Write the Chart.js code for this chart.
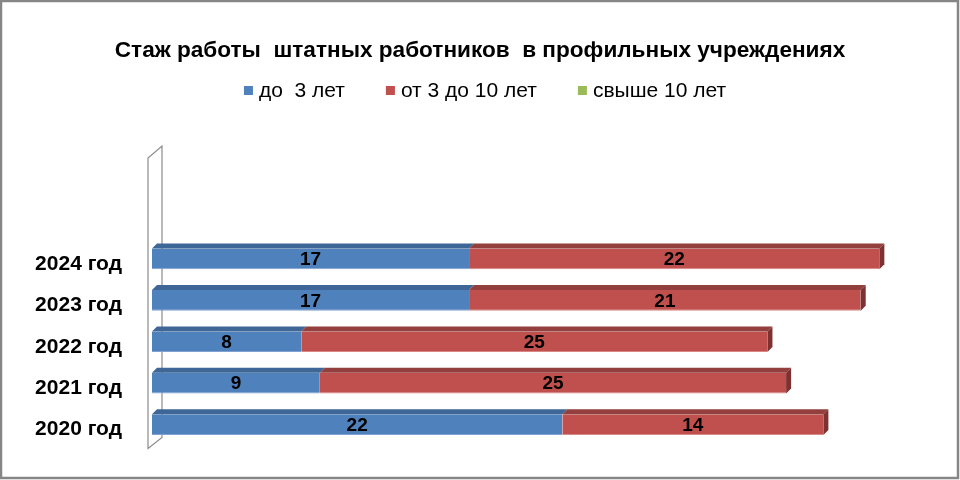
<!DOCTYPE html>
<html lang="ru">
<head>
    <meta charset="UTF-8">
    <title>Стаж работы</title>
    <script src="https://cdn.jsdelivr.net/npm/chart.js"></script>
    <style>
        html, body { margin: 0; padding: 0; background: #fff; }
        #wrap { width: 960px; height: 480px; position: relative; }
    </style>
</head>
<body>
    <div id="wrap"><canvas id="chart"></canvas></div>

    <script>
        // Chart data
        const years = ['2020 год', '2021 год', '2022 год', '2023 год', '2024 год'];
        const seriesNames = ['до  3 лет', 'от 3 до 10 лет', 'свыше 10 лет'];
        const upTo3 = [22, 9, 8, 17, 17];
        const from3to10 = [14, 25, 25, 21, 22];
        const over10 = [0, 0, 0, 0, 0];

        const FONT = "'Liberation Sans', Arial, sans-serif";
        const front = ['#4F81BD', '#C0504D', '#9BBB59'];
        const topFace = ['#3E6696', '#923F3D', '#7A9446'];
        const sideFace = ['#335581', '#7D3231', '#667C3A'];
        const edge = ['#7FA2D2', '#D98885', '#B8D28A'];
        const DX = 5, DY = 5;

        // frame, back wall, 3d faces, values and legend
        const decor = {
            id: 'decor',
            beforeDatasetsDraw(chart) {
                const ctx = chart.ctx;
                const area = chart.chartArea;
                ctx.save();
                ctx.strokeStyle = '#8C8C8C';
                ctx.lineWidth = 1.2;
                ctx.fillStyle = '#fff';
                const l = area.left - 4, b = area.bottom + 3;
                ctx.beginPath();
                ctx.moveTo(l, b);
                ctx.lineTo(l, 158);
                ctx.lineTo(l + 14, 146);
                ctx.lineTo(l + 14, b - 11);
                ctx.closePath();
                ctx.fill();
                ctx.stroke();
                ctx.restore();
            },
            afterDatasetsDraw(chart) {
                const ctx = chart.ctx;
                ctx.save();
                const n = chart.data.labels.length;
                for (let i = 0; i < n; i++) {
                    let last = null;
                    chart.data.datasets.forEach((ds, d) => {
                        const bar = chart.getDatasetMeta(d).data[i];
                        if (!bar || !ds.data[i]) return;
                        const top = bar.y - bar.height / 2;
                        ctx.fillStyle = topFace[d];
                        ctx.beginPath();
                        ctx.moveTo(bar.base, top);
                        ctx.lineTo(bar.base + DX, top - DY);
                        ctx.lineTo(bar.x + DX, top - DY);
                        ctx.lineTo(bar.x, top);
                        ctx.closePath();
                        ctx.fill();
                        last = { bar, d };
                    });
                    if (last) {
                        const bar = last.bar;
                        const top = bar.y - bar.height / 2;
                        const bottom = bar.y + bar.height / 2;
                        ctx.fillStyle = sideFace[last.d];
                        ctx.beginPath();
                        ctx.moveTo(bar.x, top);
                        ctx.lineTo(bar.x + DX, top - DY);
                        ctx.lineTo(bar.x + DX, bottom - DY);
                        ctx.lineTo(bar.x, bottom);
                        ctx.closePath();
                        ctx.fill();
                    }
                }
                // value labels
                ctx.fillStyle = '#000';
                ctx.font = 'bold 19px ' + FONT;
                ctx.textAlign = 'center';
                ctx.textBaseline = 'middle';
                chart.data.datasets.forEach((ds, d) => {
                    chart.getDatasetMeta(d).data.forEach((bar, i) => {
                        if (!ds.data[i]) return;
                        ctx.fillText(ds.data[i], (bar.x + bar.base) / 2, bar.y + 1);
                    });
                });
                ctx.restore();
            },
            afterDraw(chart) {
                const ctx = chart.ctx;
                ctx.save();
                // legend row
                ctx.font = '21px ' + FONT;
                ctx.textBaseline = 'middle';
                ctx.textAlign = 'left';
                const items = chart.data.datasets.map((ds, d) => ({
                    text: ds.label, color: front[d], w: ctx.measureText(ds.label).width
                }));
                const box = 9, gap = 6, spacing = 41;
                const total = items.reduce((s, it) => s + box + gap + it.w, 0) + spacing * (items.length - 1);
                let x = 485 - total / 2;
                const y = 91;
                items.forEach(it => {
                    ctx.fillStyle = it.color;
                    ctx.fillRect(x, y - 5, box, box);
                    ctx.fillStyle = '#000';
                    ctx.fillText(it.text, x + box + gap, y);
                    x += box + gap + it.w + spacing;
                });
                // outer frame
                ctx.strokeStyle = '#868686';
                ctx.lineWidth = 2.5;
                ctx.strokeRect(1, 1, chart.width - 3, chart.height - 3);
                ctx.restore();
            }
        };

        new Chart(document.getElementById('chart'), {
            type: 'bar',
            data: {
                labels: years,
                datasets: [upTo3, from3to10, over10].map((vals, k) => ({
                    label: seriesNames[k],
                    data: vals,
                    backgroundColor: front[k],
                    borderColor: edge[k],
                    borderWidth: { top: 0, right: 0, bottom: 1, left: 0 },
                    borderSkipped: false,
                    categoryPercentage: 1,
                    barPercentage: 0.5
                }))
            },
            options: {
                indexAxis: 'y',
                responsive: true,
                maintainAspectRatio: false,
                animation: false,
                layout: { padding: { left: 0, right: 0, top: 0, bottom: 32 } },
                scales: {
                    x: {
                        stacked: true,
                        min: 0,
                        max: 40,
                        position: 'top',
                        grid: { display: false },
                        border: { display: false },
                        ticks: { display: false },
                        afterFit(scale) { scale.height = 174; }
                    },
                    y: {
                        stacked: true,
                        reverse: true,
                        grid: { display: false },
                        border: { display: false },
                        ticks: {
                            color: '#000',
                            padding: 22,
                            labelOffset: 5,
                            font: { family: FONT, size: 21, weight: 'bold' }
                        },
                        afterFit(scale) { scale.width = 152; }
                    },
                    // empty right margin so the title stays centred on the page
                    yRight: {
                        position: 'right',
                        grid: { display: false },
                        border: { display: false },
                        ticks: { display: false },
                        afterFit(scale) { scale.width = 62; }
                    }
                },
                plugins: {
                    title: {
                        display: true,
                        text: 'Стаж работы  штатных работников  в профильных учреждениях',
                        color: '#000',
                        font: { family: FONT, size: 22.6, weight: 'bold' },
                        padding: { top: 37, bottom: 0 }
                    },
                    legend: { display: false },
                    tooltip: { enabled: false }
                }
            },
            plugins: [decor]
        });
    </script>
</body>
</html>
